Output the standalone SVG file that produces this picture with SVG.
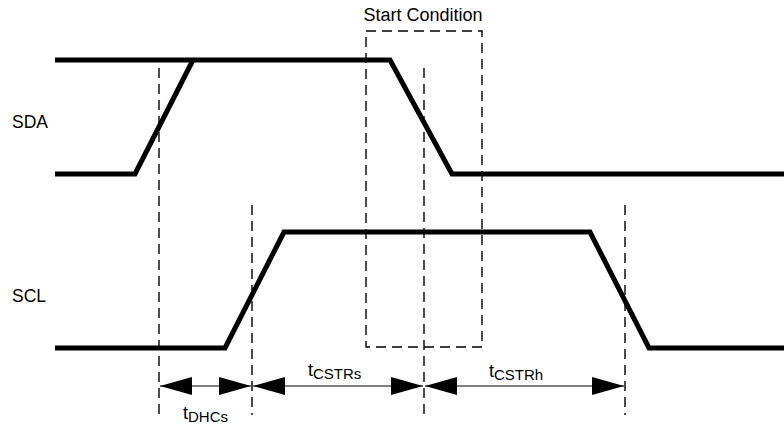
<svg xmlns="http://www.w3.org/2000/svg" width="784" height="427" viewBox="0 0 784 427">
<style>
.wave{fill:none;stroke:#000;stroke-width:5;stroke-linejoin:miter}
.dash{fill:none;stroke:#000;stroke-width:1.4;stroke-dasharray:10,6}
.dim{stroke:#000;stroke-width:1.2}
.lbl{font-family:"Liberation Sans",Arial,sans-serif;font-size:17.5px;fill:#000}
.t{font-size:18px}
.sub{font-size:15px}
</style>
<defs>
<marker id="ah" viewBox="0 0 32 18" refX="32" refY="9" markerWidth="32" markerHeight="18" markerUnits="userSpaceOnUse" orient="auto-start-reverse">
<path d="M0,0 L32,9 L0,18 Z" fill="#000"/>
</marker>
</defs>
<rect width="784" height="427" fill="#fff"/>
<g id="SDA">
<polyline class="wave" points="55,174 135,174 193,60"/>
<polyline class="wave" points="55,60 390,60 452,174 784,174"/>
<text class="lbl" x="12" y="128">SDA</text>
</g>
<g id="SCL">
<polyline class="wave" points="55,348 225,348 284,232 590,232 649,348 784,348"/>
<text class="lbl" x="12" y="302">SCL</text>
</g>
<g id="start-condition">
<rect class="dash" x="366" y="31" width="116" height="316"/>
<text class="lbl" x="423" y="21" text-anchor="middle" font-size="18" style="font-size:18px">Start Condition</text>
</g>
<g id="connectors">
<line class="dash" x1="159" y1="68" x2="159" y2="415"/>
<line class="dash" x1="252" y1="205" x2="252" y2="415"/>
<line class="dash" x1="424" y1="68" x2="424" y2="415"/>
<line class="dash" x1="625" y1="205" x2="625" y2="415"/>
<line class="dim" x1="160" y1="386" x2="251" y2="386" marker-start="url(#ah)" marker-end="url(#ah)"/>
<line class="dim" x1="253" y1="386" x2="423" y2="386" marker-start="url(#ah)" marker-end="url(#ah)"/>
<line class="dim" x1="425" y1="386" x2="624" y2="386" marker-start="url(#ah)" marker-end="url(#ah)"/>
</g>
<g id="labels">
<text class="lbl t" x="183" y="419">t<tspan class="sub" dy="3">DHCs</tspan></text>
<text class="lbl t" x="308" y="376">t<tspan class="sub" dy="3">CSTRs</tspan></text>
<text class="lbl t" x="489" y="377">t<tspan class="sub" dy="3">CSTRh</tspan></text>
</g>
</svg>
